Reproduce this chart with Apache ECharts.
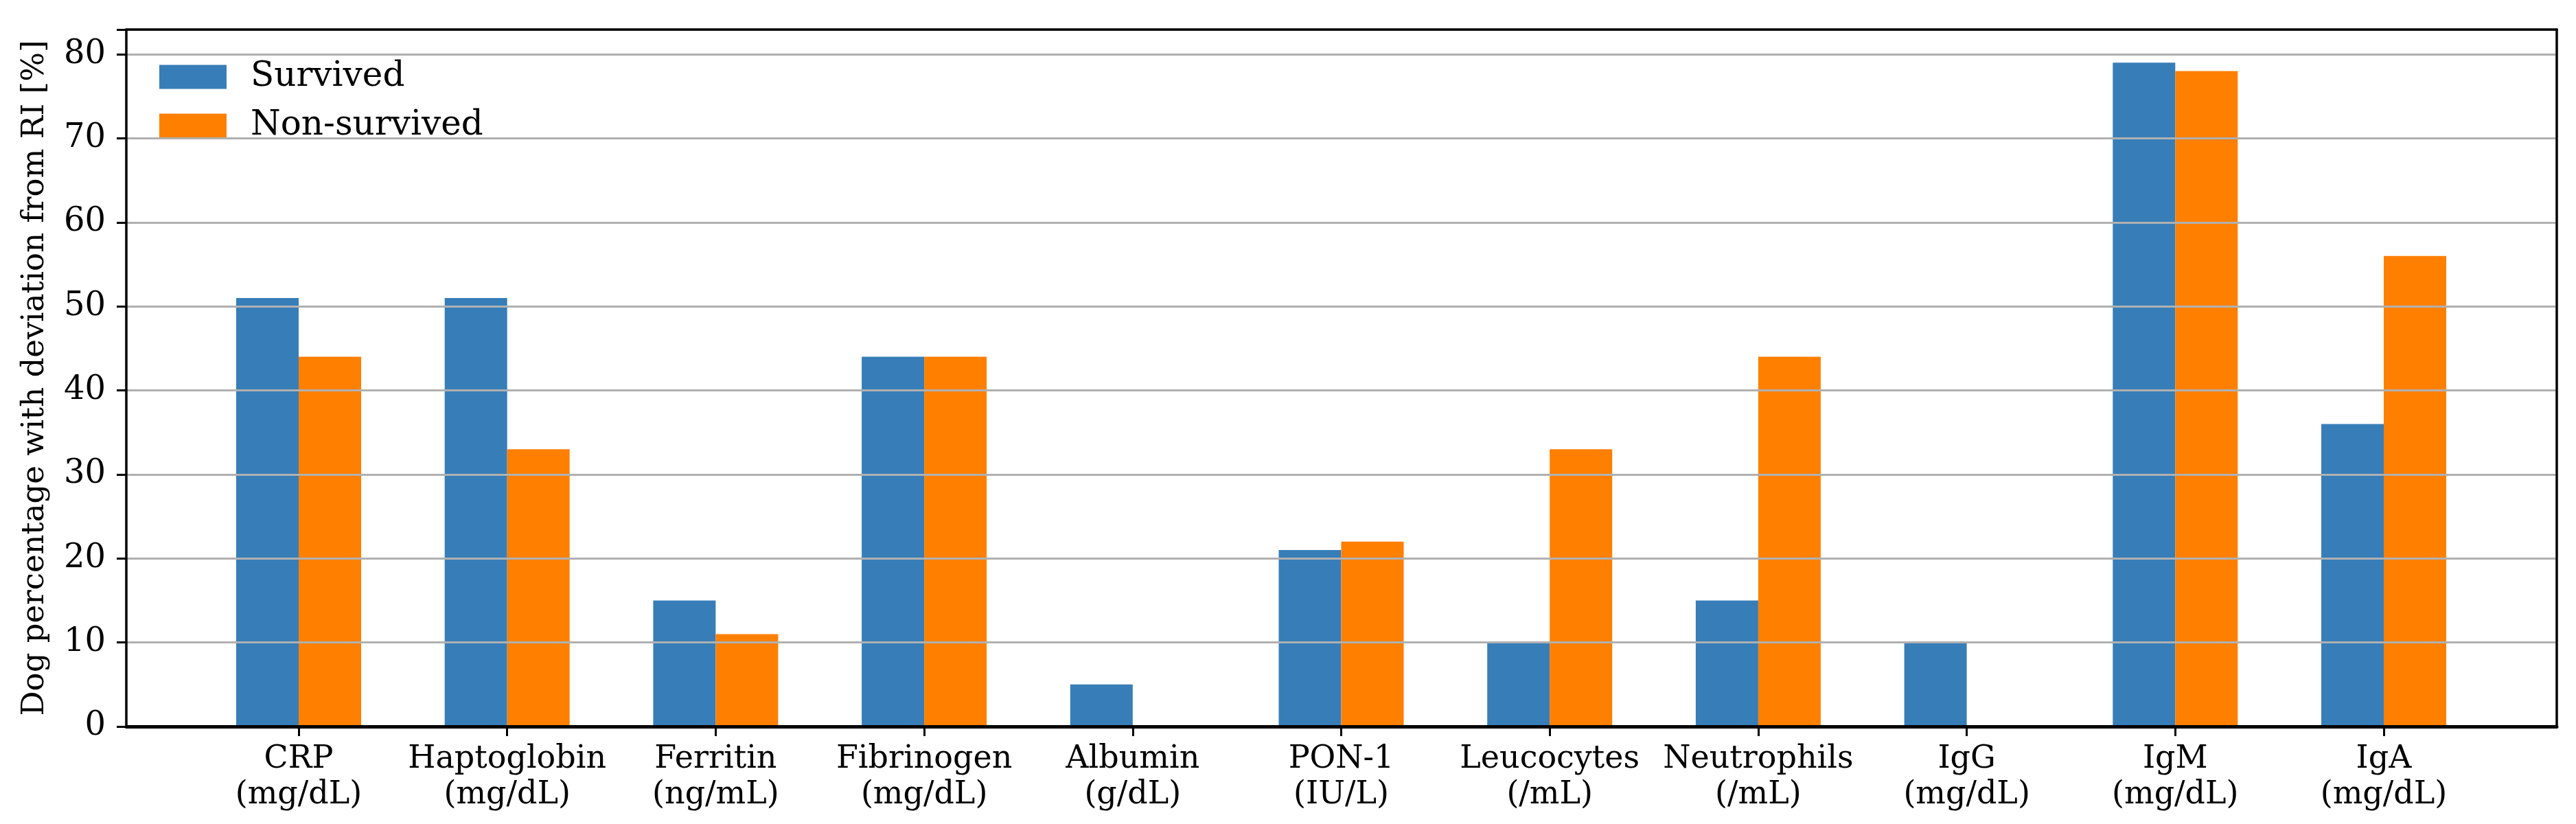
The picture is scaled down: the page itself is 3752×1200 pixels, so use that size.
<!DOCTYPE html>
<html>
<head>
<meta charset="utf-8">
<script src="https://cdn.jsdelivr.net/npm/echarts@6/dist/echarts.min.js"></script>
<style>html,body{margin:0;padding:0;background:#fff}#c{width:3752px;height:1200px}</style>
</head>
<body>
<div id="c"></div>
<script>
const markers = ['CRP','Haptoglobin','Ferritin','Fibrinogen','Albumin','PON-1','Leucocytes','Neutrophils','IgG','IgM','IgA'];
const units = ['(mg/dL)','(mg/dL)','(ng/mL)','(mg/dL)','(g/dL)','(IU/L)','(/mL)','(/mL)','(mg/dL)','(mg/dL)','(mg/dL)'];
const survived = [51, 51, 15, 44, 5, 21, 10, 15, 10, 79, 36];
const nonSurvived = [44, 33, 11, 44, 0, 22, 33, 44, 0, 78, 56];
const yTicks = [0, 10, 20, 30, 40, 50, 60, 70, 80];
const yMax = 82.95;

const categories = markers.map((m, i) => m + '\n' + units[i]);
const FONT = 'DejaVu Serif';
const chart = echarts.init(document.getElementById('c'), null, {renderer: 'canvas'});
chart.setOption({
  backgroundColor: '#fff',
  animation: false,
  legend: {
    orient: 'vertical', left: 227, top: 82,
    itemWidth: 98, itemHeight: 35, itemGap: 21,
    icon: 'rect',
    textStyle: {fontFamily: FONT, fontSize: 50, color: '#000', padding: [0, 0, 0, 30]},
    data: ['Survived', 'Non-survived']
  },
  grid: [
    {left: 184, right: 28, top: 43, bottom: 142, containLabel: false},
    {left: 283.15, right: 128.15, top: 43, bottom: 142, containLabel: false}
  ],
  xAxis: [
    {type: 'value', gridIndex: 0, min: 0, max: 1, z: 10, position: 'bottom',
     axisLine: {show: true, onZero: false, lineStyle: {color: '#000', width: 5}},
     axisTick: {show: false}, axisLabel: {show: false}, splitLine: {show: false}},
    {type: 'value', gridIndex: 0, min: 0, max: 1, position: 'top', z: 10,
     axisLine: {show: true, onZero: false, lineStyle: {color: '#000', width: 3.5}},
     axisTick: {show: false}, axisLabel: {show: false}, splitLine: {show: false}},
    {type: 'category', gridIndex: 1, data: categories, boundaryGap: true, z: 11,
     axisLine: {show: false, onZero: false},
     axisTick: {show: true, alignWithLabel: true, length: 14, lineStyle: {color: '#000', width: 3}},
     axisLabel: {fontFamily: FONT, fontSize: 46, color: '#000', lineHeight: 52, margin: 22, interval: 0},
     splitLine: {show: false}}
  ],
  yAxis: [
    {type: 'value', gridIndex: 0, min: 0, max: yMax, interval: 10, z: 5, position: 'left',
     name: 'Dog percentage with deviation from RI [%]',
     nameLocation: 'middle', nameRotate: 90, nameGap: 110,
     nameTextStyle: {fontFamily: FONT, fontSize: 45, color: '#000'},
     axisLine: {show: true, onZero: false, lineStyle: {color: '#000', width: 3.5}},
     axisTick: {show: true, length: 14, lineStyle: {color: '#000', width: 3}},
     axisLabel: {fontFamily: FONT, fontSize: 48, color: '#000', margin: 30,
       formatter: v => yTicks.includes(v) ? String(v) : ''},
     splitLine: {show: true, lineStyle: {color: '#b0b0b0', width: 3}}},
    {type: 'value', gridIndex: 0, min: 0, max: yMax, position: 'right', z: 10,
     axisLine: {show: true, onZero: false, lineStyle: {color: '#000', width: 3.5}},
     axisTick: {show: false}, axisLabel: {show: false}, splitLine: {show: false}},
    {type: 'value', gridIndex: 1, min: 0, max: yMax, show: false}
  ],
  series: [
    {name: 'Survived', type: 'bar', xAxisIndex: 2, yAxisIndex: 2, data: survived,
     barWidth: 91, barGap: '0%', itemStyle: {color: '#377eb8'}, z: 2},
    {name: 'Non-survived', type: 'bar', xAxisIndex: 2, yAxisIndex: 2, data: nonSurvived,
     barWidth: 91, barGap: '0%', itemStyle: {color: '#ff7f00'}, z: 2}
  ]
});
</script>
</body>
</html>
